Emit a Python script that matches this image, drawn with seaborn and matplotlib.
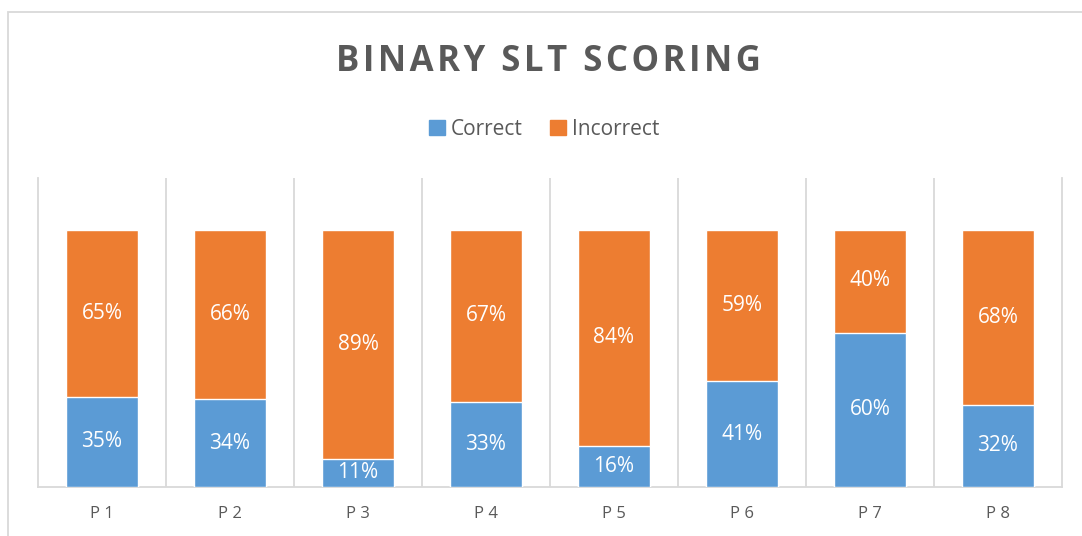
import matplotlib
matplotlib.use('Agg')
import pandas as pd
import matplotlib.pyplot as plt
import seaborn as sns
from matplotlib.patches import Rectangle, Patch

# chart data
participants = ['P 1', 'P 2', 'P 3', 'P 4', 'P 5', 'P 6', 'P 7', 'P 8']
correct = [35, 34, 11, 33, 16, 41, 60, 32]
incorrect = [65, 66, 89, 67, 84, 59, 40, 68]
title = 'BINARY SLT SCORING'

BLUE = '#5B9BD5'
ORANGE = '#ED7D31'
GRAY_TXT = '#595959'
GRID = '#D9D9D9'

df = pd.DataFrame({'participant': participants, 'correct': correct, 'incorrect': incorrect})
df['total'] = df['correct'] + df['incorrect']

sns.set_style('white')
plt.rcParams['font.family'] = ['Open Sans', 'DejaVu Sans']

fig = plt.figure(figsize=(10.82, 5.36), dpi=100)
ax = fig.add_axes([38 / 1082, 1 - 487 / 536, (1062 - 38) / 1082, (487 - 178) / 536])

# stacked bars: total in orange, correct drawn over it in blue
sns.barplot(data=df, x='participant', y='total', color=ORANGE, width=0.5625,
            saturation=1, ax=ax, zorder=3)
sns.barplot(data=df, x='participant', y='correct', color=BLUE, width=0.5625,
            saturation=1, ax=ax, zorder=3)

for i, (c, w) in enumerate(zip(correct, incorrect)):
    ax.text(i, c / 2, f'{c}%', ha='center', va='center', color='white', fontsize=15, zorder=4)
    ax.text(i, c + w / 2, f'{w}%', ha='center', va='center', color='white', fontsize=15, zorder=4)

ax.set_ylim(0, 120)
ax.set_xlim(-0.5, len(participants) - 0.5)
ax.set_yticks([])
ax.set_xlabel('')
ax.set_ylabel('')

# category separators
for b in range(1, len(participants)):
    ax.axvline(b - 0.5, color=GRID, lw=1.3, zorder=1)
for side in ['left', 'right', 'bottom']:
    ax.spines[side].set_color(GRID)
    ax.spines[side].set_linewidth(1.3)
ax.spines['top'].set_visible(False)
ax.tick_params(axis='x', length=0, pad=14, labelsize=12, labelcolor=GRAY_TXT)

# title (letter-spaced with hair spaces) and legend
spaced = '\u200a'.join(title)
fig.text(0.507, 1 - 62 / 536, spaced,
         ha='center', va='center', fontsize=25, fontweight='bold', color=GRAY_TXT)
handles = [Patch(color=BLUE, label='Correct'), Patch(color=ORANGE, label='Incorrect')]
fig.legend(handles=handles, loc='center', bbox_to_anchor=(0.503, 1 - 129 / 536), ncol=2,
           frameon=False, handlelength=0.75, handleheight=0.75, handletextpad=0.3,
           columnspacing=1.3, fontsize=15, labelcolor=GRAY_TXT)

# chart area border
fig.patches.append(Rectangle((8 / 1082, -0.1), 1.2, 1 - 12 / 536 + 0.1, transform=fig.transFigure,
                             fill=False, edgecolor=GRID, lw=1.3))

fig.savefig('out.png', dpi=100)
